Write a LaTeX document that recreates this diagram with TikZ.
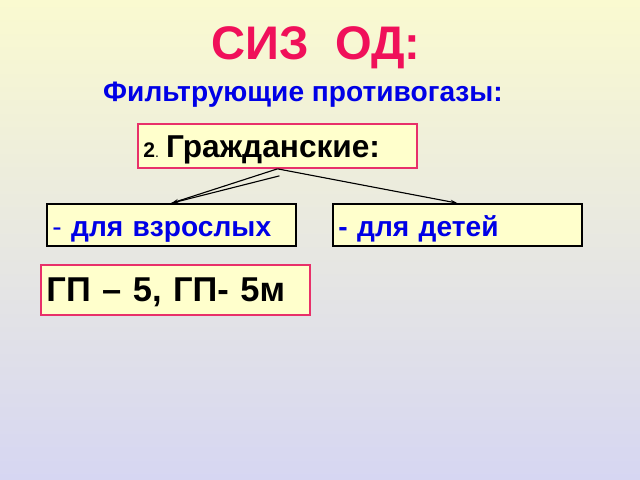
\documentclass[tikz,border=0pt]{standalone}
\usepackage{fontspec}
\setmainfont{Liberation Sans}
\usetikzlibrary{arrows.meta}

\definecolor{bgtop}{RGB}{250,250,208}
\definecolor{bgbottom}{RGB}{214,214,242}
\definecolor{boxfill}{RGB}{255,255,204}
\definecolor{rose}{RGB}{232,48,106}
\definecolor{titlered}{RGB}{240,16,90}
\definecolor{textblue}{RGB}{0,0,230}

\tikzset{
  pane/.style={draw, line width=1.2pt, fill=boxfill, inner xsep=0.14cm, align=left,
    text height=16pt, text depth=0pt},
  rosepane/.style={pane, draw=rose},
  blackpane/.style={pane, draw=black},
  link/.style={line width=0.8pt, -{Stealth[length=5pt,width=3pt]}}
}

\begin{document}
\begin{tikzpicture}[x=0.025cm, y=-0.025cm]
 \shade[top color=bgtop, bottom color=bgbottom] (0,0) rectangle (640,480);
 \useasboundingbox (0,0) rectangle (640,480);

 \node[text=titlered, font=\fontsize{33.5}{34}\selectfont\bfseries] (title) at (316,48) {СИЗ\ \ ОД:};
 \node[text=textblue, font=\fontsize{20}{20}\selectfont\bfseries] (sub) at (303,95) {Фильтрующие противогазы:};

 \node[rosepane, minimum width=6.975cm, minimum height=1.1cm, text width=6.7cm, text height=17pt] (civil) at (277.5,146)
   {{\fontsize{15}{15}\selectfont\bfseries 2}. {\fontsize{22.5}{22.5}\selectfont\bfseries Гражданские:}};
 \node[blackpane, minimum width=6.225cm, minimum height=1.05cm, text width=5.95cm, text=textblue,
   font=\fontsize{20}{20}\selectfont\bfseries] (adult) at (171.5,225) {{\mdseries -} для взрослых};
 \node[blackpane, minimum width=6.225cm, minimum height=1.05cm, text width=5.95cm, text=textblue,
   font=\fontsize{20}{20}\selectfont\bfseries] (child) at (457.5,225) {- для детей};
 \node[rosepane, minimum width=6.725cm, minimum height=1.25cm, text width=6.45cm, text height=17pt,
   font=\fontsize{24.5}{24.5}\selectfont\bfseries] (gp) at (175.5,290) {ГП – 5, ГП- 5м};

 \draw[link] (civil.south) -- (adult.north);
 \draw[line width=0.8pt] ([shift={(2,7)}]civil.south) -- (adult.north);
 \draw[link] (civil.south) -- (child.north);
\end{tikzpicture}
\end{document}
